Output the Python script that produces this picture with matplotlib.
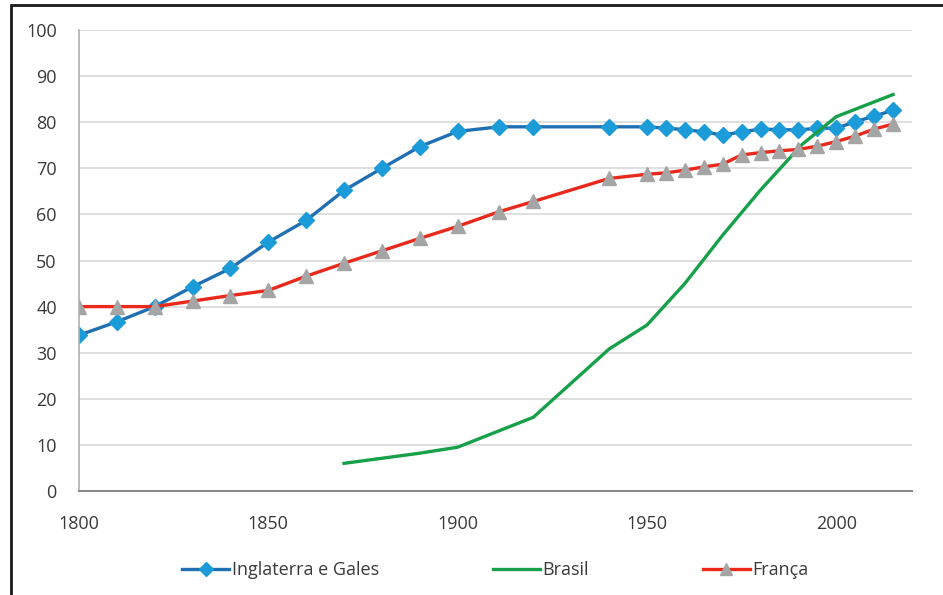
import matplotlib.pyplot as plt
from matplotlib.patches import Rectangle

plt.rcParams['font.family'] = ['Open Sans', 'DejaVu Sans']

anos = [1800, 1810, 1820, 1830, 1840, 1850, 1860, 1870, 1880, 1890, 1900, 1911, 1920,
        1940, 1950, 1955, 1960, 1965, 1970, 1975, 1980, 1985, 1990, 1995, 2000, 2005,
        2010, 2015]
inglaterra = [33.8, 36.7, 40.0, 44.3, 48.3, 54.0, 58.7, 65.2, 70.0, 74.7, 78.0, 79.0, 79.0,
              79.0, 79.0, 78.7, 78.4, 77.9, 77.2, 77.9, 78.5, 78.4, 78.3, 78.7, 78.7, 80.1,
              81.3, 82.6]
franca = [40.0, 40.0, 40.0, 41.2, 42.4, 43.5, 46.6, 49.4, 52.1, 54.8, 57.4, 60.6, 62.8,
          67.8, 68.7, 69.0, 69.6, 70.3, 70.9, 72.9, 73.4, 73.8, 74.1, 74.8, 75.8, 77.0,
          78.5, 79.6]

anos_brasil = [1870, 1890, 1900, 1920, 1940, 1950, 1960, 1970, 1980, 1991, 2000, 2010, 2015]
brasil = [6.0, 8.2, 9.5, 16.0, 30.8, 36.0, 45.0, 55.5, 65.3, 75.2, 81.2, 84.4, 86.0]

fig = plt.figure(figsize=(9.43, 5.95), dpi=100)
ax = fig.add_axes([79 / 943, 104 / 595, 833 / 943, 461 / 595])

ax.plot(anos, inglaterra, color='#1f6fb2', lw=2.4, marker='D', markersize=8,
        markerfacecolor='#1b9bd7', markeredgecolor='#1b9bd7', label='Inglaterra e Gales')
ax.plot(anos_brasil, brasil, color='#16a04a', lw=2.4, label='Brasil')
ax.plot(anos, franca, color='#e8291c', lw=2.4, marker='^', markersize=10,
        markerfacecolor='#a5a5a5', markeredgecolor='#a5a5a5', label='França')

ax.set_xlim(1800, 2020)
ax.set_ylim(0, 100)
ax.set_xticks([1800, 1850, 1900, 1950, 2000])
ax.set_yticks(range(0, 101, 10))
ax.grid(axis='y', color='#d9d9d9', lw=1.2)
ax.set_axisbelow(True)
ax.tick_params(length=0, labelsize=13, labelcolor='#3a3a3a')
ax.tick_params(axis='x', pad=17)
ax.tick_params(axis='y', pad=16)
for lado in ['top', 'right']:
    ax.spines[lado].set_visible(False)
ax.spines['left'].set_color('#b0b0b0')
ax.spines['left'].set_linewidth(1.2)
ax.spines['bottom'].set_color('#8a8a8a')
ax.spines['bottom'].set_linewidth(1.5)

ax.legend(loc='center', bbox_to_anchor=(0.5, -0.171), ncol=3, frameon=False,
          fontsize=13, labelcolor='#3a3a3a', handlelength=2.6, handletextpad=0.15,
          columnspacing=6.3, markerscale=0.9)

# moldura preta em volta do gráfico
fig.patches.append(Rectangle((11 / 943, -0.1), 1.2, 1.1 - 5 / 595, transform=fig.transFigure,
                             fill=False, edgecolor='#1a1a1a', lw=2))

plt.savefig('out.png', dpi=100)
